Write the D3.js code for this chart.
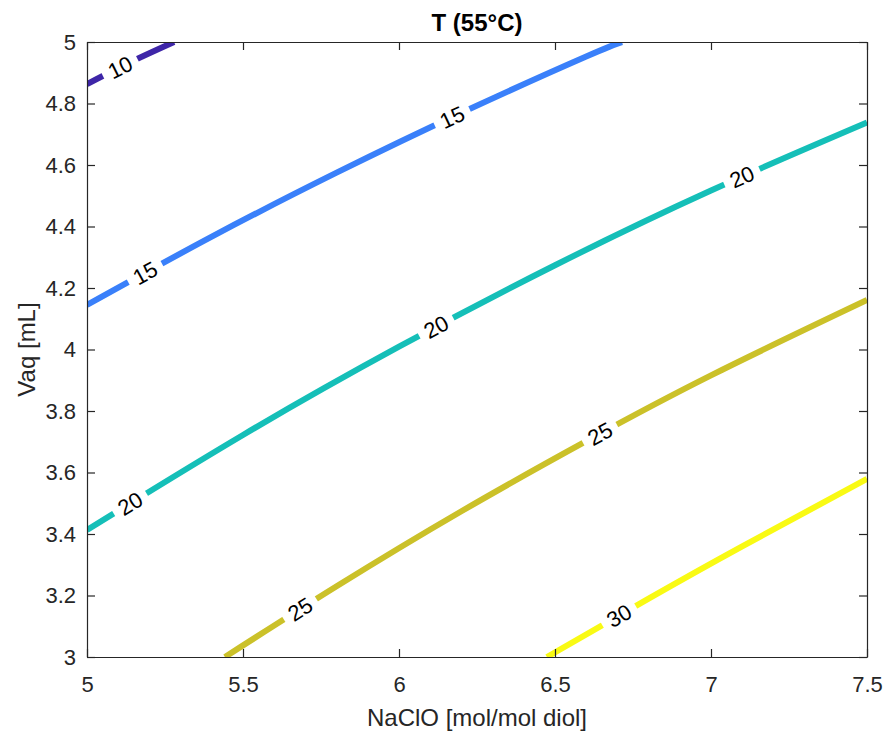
<!DOCTYPE html>
<html>
<head>
<meta charset="utf-8">
<script src="https://cdn.jsdelivr.net/npm/d3@7/dist/d3.min.js"></script>
<style>
  html, body { margin: 0; padding: 0; background: #fff; }
  svg { display: block; font-family: "Liberation Sans", Arial, Helvetica, sans-serif; }
</style>
</head>
<body>
<svg id="chart" width="885" height="732"></svg>
<script>
// ---------- data ----------
const levels = [10, 15, 20, 25, 30];
const levelColors = ["#3e26a8", "#3a80fa", "#15bfb8", "#cbc129", "#f9fa14"];

const contour10 = [[5.0, 4.863], [5.138, 4.934], [5.279, 5.0]];
const contour15 = [[5.0, 4.145], [5.4, 4.367], [5.8, 4.575], [6.2, 4.770], [6.6, 4.953], [6.715, 5.0]];
const contour20 = [[5.0, 3.413], [5.5, 3.722], [6.0, 4.009], [6.5, 4.274], [7.0, 4.517], [7.5, 4.738]];
const contour25 = [[5.442, 3.0], [5.8, 3.230], [6.2, 3.474], [6.6, 3.702], [7.0, 3.916], [7.5, 4.161]];
const contour30 = [[6.474, 3.0], [6.8, 3.190], [7.1, 3.360], [7.5, 3.579]];
const contours = [contour10, contour15, contour20, contour25, contour30];

// x positions (NaClO) where each contour carries its label
const labelX = [[5.106], [5.186, 6.170], [5.138, 6.119, 7.099], [5.683, 6.644], [6.705]];

const xTicks = [5, 5.5, 6, 6.5, 7, 7.5];
const yTicks = [3, 3.2, 3.4, 3.6, 3.8, 4, 4.2, 4.4, 4.6, 4.8, 5];
const xDomain = [5, 7.5];
const yDomain = [3, 5];
const titleText = "T (55°C)";
const xLabelText = "NaClO [mol/mol diol]";
const yLabelText = "Vaq [mL]";

// ---------- layout ----------
const margin = { left: 87, right: 18, top: 42, bottom: 75 };
const W = 885, H = 732;
const pw = W - margin.left - margin.right;
const ph = H - margin.top - margin.bottom;
const axisColor = "#262626";

const svg = d3.select("#chart");
const x = d3.scaleLinear().domain(xDomain).range([0, pw]);
const y = d3.scaleLinear().domain(yDomain).range([ph, 0]);

const defs = svg.append("defs");
defs.append("clipPath").attr("id", "plotclip")
  .append("rect").attr("width", pw).attr("height", ph);

const g = svg.append("g").attr("transform", `translate(${margin.left},${margin.top})`);

// ---------- contour lines ----------
const line = d3.line().x(d => x(d[0])).y(d => y(d[1])).curve(d3.curveNatural);

const mask = defs.append("mask").attr("id", "labelmask").attr("maskUnits", "userSpaceOnUse")
  .attr("x", -50).attr("y", -50).attr("width", pw + 100).attr("height", ph + 100);
mask.append("rect").attr("x", -50).attr("y", -50).attr("width", pw + 100).attr("height", ph + 100).attr("fill", "white");

const lineG = g.append("g").attr("clip-path", "url(#plotclip)");
const linesInner = lineG.append("g").attr("mask", "url(#labelmask)");
const labelG = g.append("g");

const labelFont = 22;
contours.forEach((pts, i) => {
  const path = linesInner.append("path")
    .attr("d", line(pts))
    .attr("fill", "none")
    .attr("stroke", levelColors[i])
    .attr("stroke-width", 6)
    .attr("stroke-linecap", "butt");
  const node = path.node();
  const total = node.getTotalLength();
  labelX[i].forEach(lx => {
    const tx = x(lx);
    let lo = 0, hi = total;
    for (let k = 0; k < 40; k++) {
      const mid = (lo + hi) / 2;
      if (node.getPointAtLength(mid).x < tx) lo = mid; else hi = mid;
    }
    const L = (lo + hi) / 2;
    const p = node.getPointAtLength(L);
    const p1 = node.getPointAtLength(Math.max(0, L - 6));
    const p2 = node.getPointAtLength(Math.min(total, L + 6));
    const ang = Math.atan2(p2.y - p1.y, p2.x - p1.x) * 180 / Math.PI;
    const txt = labelG.append("text")
      .attr("transform", `translate(${p.x},${p.y}) rotate(${ang})`)
      .attr("text-anchor", "middle")
      .attr("dy", "0.36em")
      .attr("font-size", labelFont)
      .attr("fill", "#000")
      .text(levels[i]);
    const tw = txt.node().getComputedTextLength();
    const gw = tw + 14;
    mask.append("rect")
      .attr("x", -gw / 2).attr("y", -12).attr("width", gw).attr("height", 24)
      .attr("fill", "black")
      .attr("transform", `translate(${p.x},${p.y}) rotate(${ang})`);
  });
});

// ---------- axes ----------
const fmt = d => String(d);
const tickFont = 22;
const ax = g.append("g").attr("transform", `translate(0,${ph})`)
  .call(d3.axisBottom(x).tickValues(xTicks).tickFormat(fmt).tickSizeInner(-8).tickSizeOuter(0).tickPadding(19));
const ay = g.append("g")
  .call(d3.axisLeft(y).tickValues(yTicks).tickFormat(fmt).tickSizeInner(-8).tickSizeOuter(0).tickPadding(11));
const at = g.append("g")
  .call(d3.axisTop(x).tickValues(xTicks).tickFormat("").tickSizeInner(-8).tickSizeOuter(0));
const ar = g.append("g").attr("transform", `translate(${pw},0)`)
  .call(d3.axisRight(y).tickValues(yTicks).tickFormat("").tickSizeInner(-8).tickSizeOuter(0));

[ax, ay, at, ar].forEach(a => {
  a.selectAll("path.domain").attr("stroke", axisColor).attr("stroke-width", 1.2);
  a.selectAll(".tick line").attr("stroke", axisColor).attr("stroke-width", 1.2);
  a.selectAll(".tick text").attr("fill", axisColor).attr("font-size", tickFont)
    .attr("font-family", "Liberation Sans, Arial, Helvetica, sans-serif");
});

// ---------- titles ----------
svg.append("text")
  .attr("x", margin.left + pw / 2).attr("y", 31)
  .attr("text-anchor", "middle").attr("font-size", 24).attr("font-weight", "bold")
  .attr("fill", "#000").text(titleText);

svg.append("text")
  .attr("x", margin.left + pw / 2).attr("y", 726)
  .attr("text-anchor", "middle").attr("font-size", 24)
  .attr("fill", axisColor).text(xLabelText);

svg.append("text")
  .attr("transform", `translate(35,${margin.top + ph / 2}) rotate(-90)`)
  .attr("text-anchor", "middle").attr("font-size", 24)
  .attr("fill", axisColor).text(yLabelText);
</script>
</body>
</html>
